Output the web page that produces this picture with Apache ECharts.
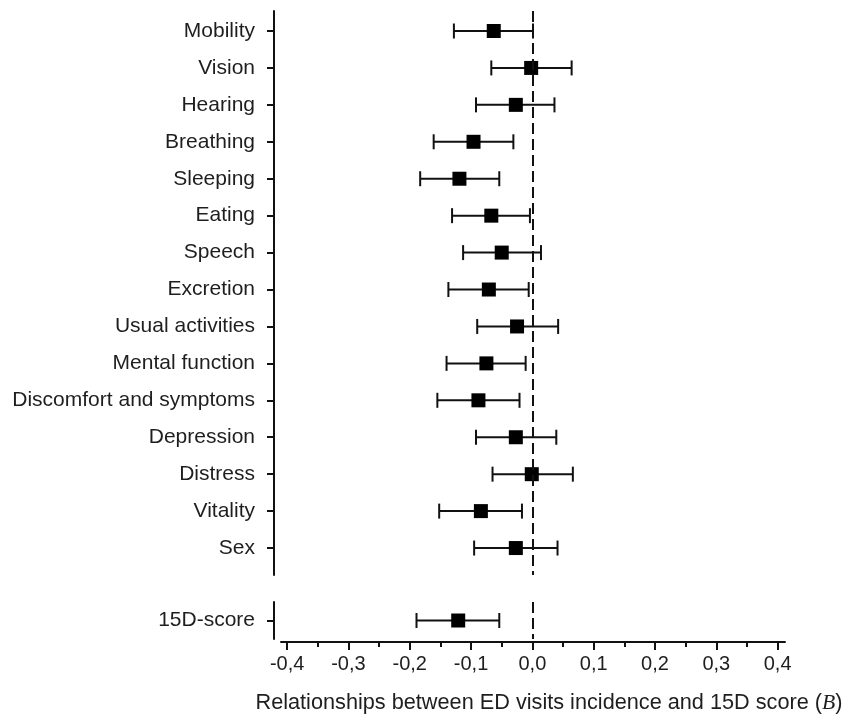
<!DOCTYPE html>
<html><head><meta charset="utf-8">
<script src="https://cdn.jsdelivr.net/npm/echarts@6/dist/echarts.min.js"></script>
<style>html,body{margin:0;padding:0;background:#fff}#c{width:845px;height:721px}</style>
</head><body><div id="c"></div>
<script>
const categories = ['Mobility','Vision','Hearing','Breathing','Sleeping','Eating','Speech','Excretion','Usual activities','Mental function','Discomfort and symptoms','Depression','Distress','Vitality','Sex'];
const estimates = [-0.063,-0.002,-0.027,-0.096,-0.119,-0.067,-0.050,-0.071,-0.025,-0.075,-0.088,-0.027,-0.001,-0.084,-0.027];
const lower = [-0.128,-0.067,-0.092,-0.161,-0.183,-0.131,-0.113,-0.137,-0.090,-0.140,-0.155,-0.092,-0.065,-0.152,-0.095];
const upper = [0.001,0.064,0.036,-0.031,-0.054,-0.004,0.014,-0.006,0.042,-0.011,-0.021,0.039,0.066,-0.017,0.041];
const totalLabel = ['15D-score'];
const totalEstimate = [-0.121];
const totalLower = [-0.189];
const totalUpper = [-0.054];
const xTicks = [-0.4,-0.3,-0.2,-0.1,0,0.1,0.2,0.3,0.4];
const xMinorTicks = [-0.35,-0.25,-0.15,-0.05,0.05,0.15,0.25,0.35];
const xTitle = 'Relationships between ED visits incidence and 15D score ';
const xTitleSymbol = 'B';

const FONT = '"Liberation Sans", Arial, sans-serif';
const INK = '#111';
const TXT = '#1e1e1e';
const XMIN = -0.41, XMAX = 0.412;

function errRender(params, api) {
  const y = api.value(0), lo = api.value(1), hi = api.value(2);
  const p1 = api.coord([lo, y]), p2 = api.coord([hi, y]);
  const h = 7.5;
  const style = { stroke: INK, lineWidth: 2 };
  return { type: 'group', children: [
    { type: 'line', shape: { x1: p1[0], y1: p1[1], x2: p2[0], y2: p2[1] }, style },
    { type: 'line', shape: { x1: p1[0], y1: p1[1] - h, x2: p1[0], y2: p1[1] + h }, style },
    { type: 'line', shape: { x1: p2[0], y1: p2[1] - h, x2: p2[0], y2: p2[1] + h }, style }
  ]};
}

const idx = categories.map((c, i) => i);
const dashLine = () => ({
  silent: true, symbol: 'none', label: { show: false },
  lineStyle: { type: [11, 5], color: INK, width: 2 },
  data: [{ xAxis: 0 }]
});

const yCommon = {
  type: 'value', inverse: true, offset: 7,
  axisLine: { show: true, onZero: false, lineStyle: { color: INK, width: 2 } },
  axisTick: { show: true, length: 7, lineStyle: { color: INK, width: 2 } },
  splitLine: { show: false }
};

const option = {
  backgroundColor: '#fff',
  animation: false,
  textStyle: { fontFamily: FONT },
  grid: [
    { left: 281, right: 60, top: 11, height: 564, containLabel: false, outerBoundsMode: 'none' },
    { left: 281, right: 60, top: 602, height: 37, containLabel: false, outerBoundsMode: 'none' }
  ],
  xAxis: [
    { gridIndex: 0, type: 'value', min: XMIN, max: XMAX, show: false, splitLine: { show: false } },
    { gridIndex: 1, type: 'value', min: XMIN, max: XMAX, position: 'bottom', offset: 3,
      axisLine: { show: true, onZero: false, lineStyle: { color: INK, width: 2 } },
      axisTick: { show: true, length: 8, customValues: xTicks, lineStyle: { color: INK, width: 2 } },
      axisLabel: { customValues: xTicks, margin: 12, fontSize: 20, color: TXT, fontFamily: FONT,
        formatter: v => v.toFixed(1).replace('.', ',') },
      splitLine: { show: false },
      name: xTitle + '({b|' + xTitleSymbol + '})',
      nameLocation: 'middle', nameGap: 50,
      nameTextStyle: { fontSize: 21.7, color: TXT, fontFamily: FONT, padding: [0, 0, 0, 32],
        rich: { b: { fontSize: 21.7, fontStyle: 'italic', fontFamily: '"Liberation Serif", "DejaVu Serif", serif', color: TXT } } }
    },
    { gridIndex: 1, type: 'value', min: XMIN, max: XMAX, position: 'bottom', offset: 3,
      axisLine: { show: false, onZero: false },
      axisTick: { show: true, length: 5, customValues: xMinorTicks, lineStyle: { color: INK, width: 2 } },
      axisLabel: { show: false }, splitLine: { show: false }
    }
  ],
  yAxis: [
    Object.assign({}, yCommon, { gridIndex: 0, min: -0.5416, max: 14.73,
      axisTick: Object.assign({}, yCommon.axisTick, { customValues: idx }),
      axisLabel: { customValues: idx, margin: 19, fontSize: 21, color: TXT, fontFamily: FONT,
        formatter: v => categories[Math.round(v)] } }),
    Object.assign({}, yCommon, { gridIndex: 1, min: -0.5, max: 0.5,
      axisTick: Object.assign({}, yCommon.axisTick, { customValues: [0] }),
      axisLabel: { customValues: [0], margin: 19, fontSize: 21, color: TXT, fontFamily: FONT,
        formatter: v => totalLabel[Math.round(v)] } })
  ],
  series: [
    { type: 'custom', xAxisIndex: 0, yAxisIndex: 0, renderItem: errRender,
      encode: { x: [1, 2], y: 0 }, z: 2,
      data: categories.map((c, i) => [i, lower[i], upper[i]]),
      markLine: dashLine() },
    { type: 'scatter', xAxisIndex: 0, yAxisIndex: 0, symbol: 'rect', symbolSize: 14, z: 3,
      itemStyle: { color: '#000', opacity: 1 },
      data: categories.map((c, i) => [estimates[i], i]) },
    { type: 'custom', xAxisIndex: 1, yAxisIndex: 1, renderItem: errRender,
      encode: { x: [1, 2], y: 0 }, z: 2,
      data: totalLabel.map((c, i) => [i, totalLower[i], totalUpper[i]]),
      markLine: dashLine() },
    { type: 'scatter', xAxisIndex: 1, yAxisIndex: 1, symbol: 'rect', symbolSize: 14, z: 3,
      itemStyle: { color: '#000', opacity: 1 },
      data: totalLabel.map((c, i) => [totalEstimate[i], i]) }
  ]
};
echarts.init(document.getElementById('c'), null, { renderer: 'canvas' }).setOption(option);
</script></body></html>
